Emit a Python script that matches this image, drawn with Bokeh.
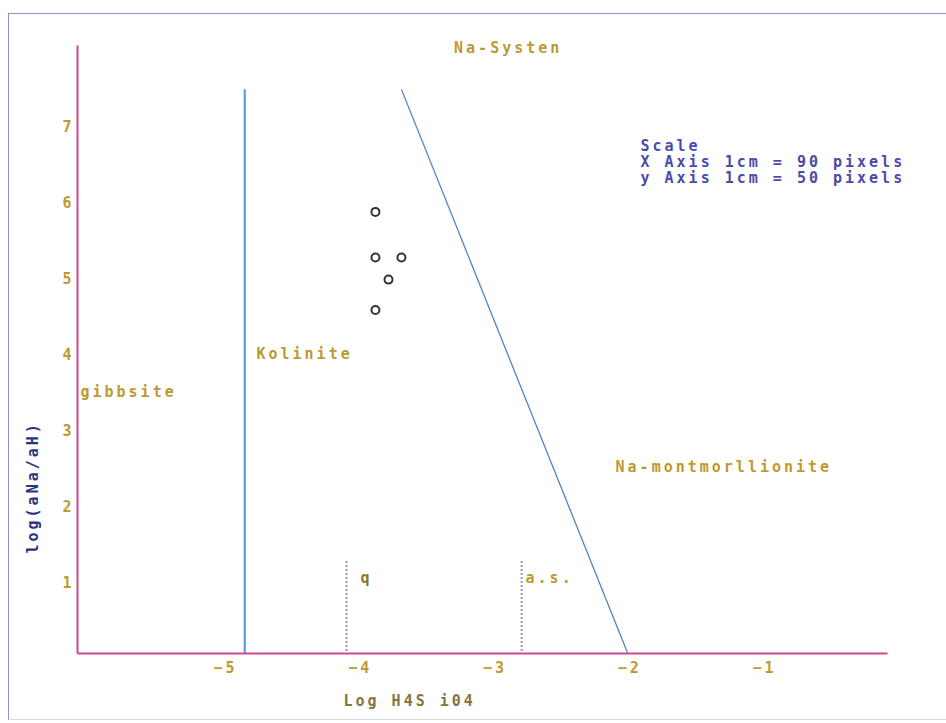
import math
from bokeh.plotting import figure
from bokeh.models import Range1d, FixedTicker, Label, Title, ColumnDataSource, InlineStyleSheet
from bokeh.embed import file_html
from bokeh.resources import INLINE

# ---- data ----
x_ticks = [-5, -4, -3, -2, -1]
y_ticks = [1, 2, 3, 4, 5, 6, 7]

sample_log_h4sio4 = [-3.865, -3.865, -3.672, -3.768, -3.865]
sample_log_na_h = [5.87, 5.27, 5.27, 4.98, 4.58]

gibbsite_kaolinite_x = [-4.835, -4.835]
gibbsite_kaolinite_y = [0.0, 7.48]

kaolinite_montm_x = [-3.672, -1.977]
kaolinite_montm_y = [7.48, 0.0]

quartz_x = [-4.08, -4.08]
quartz_y = [0.0, 1.31]
amorph_silica_x = [-2.78, -2.78]
amorph_silica_y = [0.0, 1.31]

# axis extents (data units)
x_axis_start, x_axis_end = -6.076, -0.067
y_axis_start, y_axis_end = 0.067, 8.05

GOLD = "#bc9a30"
SCALE_BLUE = "#4b4ba8"
NAVY = "#2a3580"
AXIS = "#d04890"
FONT = "DejaVu Sans Mono"
FS = "15px"

W, H = 946, 723
LEFT, BOTTOM = 77, 70
px_per_x = 134.75
px_per_y = 76.1
x_range = Range1d(x_axis_start, x_axis_start + (W - LEFT) / px_per_x)
y_range = Range1d(y_axis_start, y_axis_start + (H - BOTTOM) / px_per_y)

p = figure(width=W, height=H, output_backend="svg", toolbar_location=None,
           x_range=x_range, y_range=y_range,
           min_border_left=LEFT, min_border_right=0, min_border_top=0, min_border_bottom=BOTTOM)
p.stylesheets = [InlineStyleSheet(css="""
:host { letter-spacing: 3px; overflow: hidden; }
:host::after { content: ""; position: absolute; left: 8px; right: -12px; top: 13px; bottom: 3px;
  border-left: 1.5px solid #9a88d8; border-top: 1.5px solid #9a88d8; border-bottom: 1px solid #d8d8d8;
  border-right: 0 none transparent; pointer-events: none; }
""")]
p.outline_line_color = None
p.xgrid.visible = False
p.ygrid.visible = False
p.background_fill_color = "white"
p.border_fill_color = "white"

for ax, ticks, bounds, standoff in ((p.xaxis[0], x_ticks, (x_axis_start, x_axis_end), 1),
                                    (p.yaxis[0], y_ticks, (y_axis_start, y_axis_end), 0)):
    ax.ticker = FixedTicker(ticks=ticks)
    ax.bounds = bounds
    ax.axis_line_color = AXIS
    ax.axis_line_width = 2
    ax.major_tick_line_color = None
    ax.minor_tick_line_color = None
    ax.major_label_text_color = GOLD
    ax.major_label_text_font = FONT
    ax.major_label_text_font_style = "bold"
    ax.major_label_text_font_size = FS
    ax.major_label_standoff = standoff

# axis titles
p.add_layout(Title(text="log(aNa/aH)", align="left", offset=100, standoff=36,
                   text_color=NAVY, text_font=FONT, text_font_size=FS, text_font_style="bold"), "left")
p.add_layout(Title(text="Log H4S i04", align="left", offset=266, standoff=28, text_line_height=0.8,
                   text_color="#857542", text_font=FONT, text_font_size=FS, text_font_style="bold"), "below")

# boundary lines
p.line(gibbsite_kaolinite_x, gibbsite_kaolinite_y, line_color="#5096d8", line_width=2)
p.line(kaolinite_montm_x, kaolinite_montm_y, line_color="#4f84c4", line_width=1.3)
p.line(quartz_x, quartz_y, line_color="#2828a0", line_width=2, line_dash="1 3")
p.line(amorph_silica_x, amorph_silica_y, line_color="#2828a0", line_width=2, line_dash="1 3")

# sample points
src = ColumnDataSource(dict(x=sample_log_h4sio4, y=sample_log_na_h))
p.scatter("x", "y", source=src, size=8, marker="circle", fill_color="white",
          line_color="#333333", line_width=2)

def lab(x, y, text, color=GOLD, align="left"):
    p.add_layout(Label(x=x, y=y, text=text, text_color=color, text_align=align,
                       text_baseline="middle", text_font=FONT, text_font_size=FS,
                       text_font_style="bold"))

lab(-2.98, 8.026, "Na-Systen", align="center")
lab(-4.748, 4.005, "Kolinite")
lab(-6.054, 3.506, "gibbsite")
lab(-2.083, 2.52, "Na-montmorllionite")
lab(-3.976, 1.062, "q", color="#8a7430")
lab(-2.751, 1.062, "a.s.")
lab(-1.898, 6.737, "Scale", color=SCALE_BLUE)
lab(-1.898, 6.527, "X Axis 1cm = 90 pixels", color=SCALE_BLUE)
lab(-1.898, 6.317, "y Axis 1cm = 50 pixels", color=SCALE_BLUE)

open("out.html", "w").write(file_html(p, INLINE))
